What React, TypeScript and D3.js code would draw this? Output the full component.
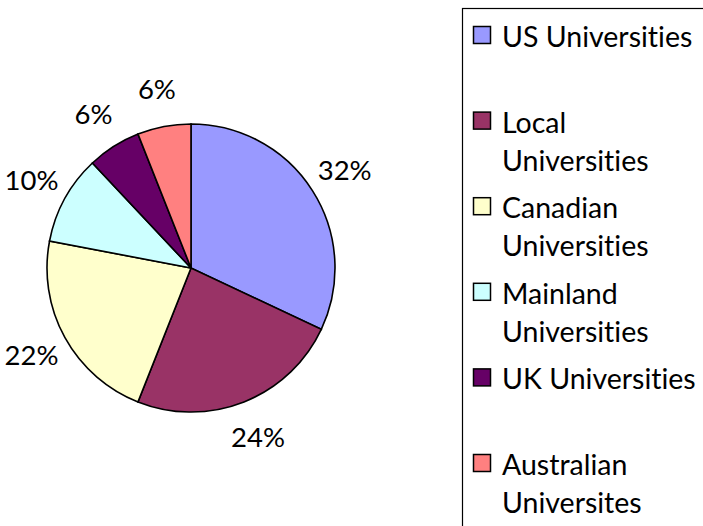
import React from "react";
import * as d3 from "d3";

const categories = [
  ["US Universities"],
  ["Local", "Universities"],
  ["Canadian", "Universities"],
  ["Mainland", "Universities"],
  ["UK Universities"],
  ["Australian", "Universites"],
];
const values = [32, 24, 22, 10, 6, 6];
const colors = ["#9999FF", "#993366", "#FFFFCC", "#CCFFFF", "#660066", "#FF8080"];

const W = 703;
const H = 526;
const cx = 191;
const cy = 268;
const radius = 144;
const labelRadius = 182;
const font = "Lato, 'Open Sans', sans-serif";

export default function App() {
  const total = d3.sum(values);
  const pie = d3.pie<number>().sort(null).value((d) => d);
  const arcs = pie(values);
  const arcGen = d3.arc<d3.PieArcDatum<number>>().innerRadius(0).outerRadius(radius);
  const labelArc = d3
    .arc<d3.PieArcDatum<number>>()
    .innerRadius(labelRadius)
    .outerRadius(labelRadius);

  // legend rows
  const legendY = d3.scaleLinear().domain([0, 1]).range([47, 132.6]);
  const lineStep = 38;

  return (
    <svg
      width={W}
      height={H}
      style={{ position: "absolute", left: 0, top: 0, background: "#fff", fontVariantLigatures: "none" }}
    >
      <g transform={`translate(${cx},${cy})`}>
        {arcs.map((a, i) => (
          <path key={i} d={arcGen(a) || ""} fill={colors[i]} stroke="#000" strokeWidth={1.6} />
        ))}
        {arcs.map((a, i) => {
          const [x, y] = labelArc.centroid(a);
          return (
            <text
              key={i}
              x={x}
              y={y}
              dy="0.35em"
              textAnchor="middle"
              fontFamily={font}
              fontSize={27.5}
              fill="#000"
            >
              {Math.round((a.data / total) * 100)}%
            </text>
          );
        })}
      </g>
      <rect x={462.5} y={8.5} width={400} height={600} fill="none" stroke="#000" strokeWidth={1.2} />
      {categories.map((lines, i) => {
        const base = legendY(i);
        return (
          <g key={i}>
            <rect
              x={473.5}
              y={base - 20.5}
              width={17}
              height={17}
              fill={colors[i]}
              stroke="#000"
              strokeWidth={1.5}
            />
            {lines.map((t, j) => (
              <text
                key={j}
                x={502}
                y={base + j * lineStep}
                fontFamily={font}
                fontSize={28.5}
                fill="#000"
              >
                {t}
              </text>
            ))}
          </g>
        );
      })}
    </svg>
  );
}
